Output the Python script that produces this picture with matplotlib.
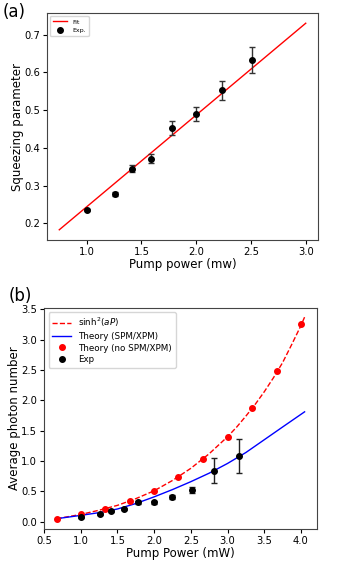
import numpy as np
import matplotlib
matplotlib.use("Agg")
import matplotlib.pyplot as plt

# ---- panel (a) data ----
fit_x = [0.75, 3.0]
fit_y = [0.183, 0.730]
pa_x = [1.0, 1.26, 1.41, 1.59, 1.78, 2.0, 2.24, 2.51]
pa_y = [0.235, 0.278, 0.345, 0.371, 0.452, 0.489, 0.553, 0.633]
pa_err = [0.003, 0.006, 0.010, 0.012, 0.019, 0.018, 0.025, 0.035]

# ---- panel (b) data ----
sinh_x = [0.67, 1.0, 1.25, 1.5, 1.75, 2.0, 2.25, 2.5, 2.75, 3.0, 3.125, 3.25,
          3.375, 3.5, 3.625, 3.75, 3.875, 4.0, 4.05]
sinh_y = [0.05, 0.12, 0.19, 0.27, 0.38, 0.51, 0.68, 0.88, 1.12, 1.40, 1.56, 1.74,
          1.93, 2.14, 2.37, 2.62, 2.92, 3.23, 3.37]
spm_x = [0.67, 1.0, 1.25, 1.5, 1.75, 2.0, 2.25, 2.5, 2.75, 3.0, 3.25, 3.5, 3.75, 4.05]
spm_y = [0.05, 0.105, 0.15, 0.21, 0.30, 0.41, 0.53, 0.66, 0.80, 0.96, 1.14, 1.35, 1.56, 1.81]
nospm_x = [0.67, 1.0, 1.33, 1.67, 2.0, 2.33, 2.67, 3.0, 3.33, 3.67, 4.0]
nospm_y = [0.05, 0.12, 0.21, 0.34, 0.51, 0.74, 1.03, 1.40, 1.88, 2.49, 3.26]
pb_x = [1.0, 1.26, 1.41, 1.59, 1.78, 2.0, 2.24, 2.51, 2.82, 3.16]
pb_y = [0.08, 0.13, 0.18, 0.21, 0.32, 0.32, 0.41, 0.52, 0.84, 1.08]
pb_err = [0.02, 0.02, 0.02, 0.02, 0.02, 0.02, 0.03, 0.05, 0.21, 0.28]

fig = plt.figure(figsize=(3.53, 5.61), dpi=100)
lab_fs = 8.5
tick_fs = 7.2

# (a)
ax1 = fig.add_axes([0.133, 0.572, 0.768, 0.405])
ax1.plot(fit_x, fit_y, color='red', lw=1, label='Fit')
ax1.errorbar(pa_x, pa_y, yerr=pa_err, fmt='none', ecolor='#333333', elinewidth=1, capsize=2.5)
ax1.plot(pa_x, pa_y, 'o', color='black', ms=4, label='Exp.')
ax1.set_xlabel('Pump power (mw)', fontsize=lab_fs, labelpad=1)
ax1.set_ylabel('Squeezing parameter', fontsize=lab_fs, labelpad=0)
ax1.set_xticks([1.0, 1.5, 2.0, 2.5, 3.0])
ax1.set_yticks([0.2, 0.3, 0.4, 0.5, 0.6, 0.7])
ax1.tick_params(labelsize=tick_fs, length=3, pad=2)
ax1.legend(loc='upper left', fontsize=4.5, handlelength=2.2, borderpad=0.5)
fig.text(0.008, 0.995, '(a)', fontsize=12, va='top', ha='left')

# (b)
ax2 = fig.add_axes([0.125, 0.057, 0.773, 0.394])
ax2.plot(sinh_x, sinh_y, '--', color='red', lw=1, label=r'sinh$^2$($aP$)')
ax2.plot(spm_x, spm_y, '-', color='blue', lw=1, label='Theory (SPM/XPM)')
ax2.plot(nospm_x, nospm_y, 'o', color='red', ms=4, label='Theory (no SPM/XPM)')
ax2.errorbar(pb_x, pb_y, yerr=pb_err, fmt='none', ecolor='#222222', elinewidth=1, capsize=2.5)
ax2.plot(pb_x, pb_y, 'o', color='black', ms=4, label='Exp')
ax2.set_xlabel('Pump Power (mW)', fontsize=lab_fs, labelpad=1)
ax2.set_ylabel('Average photon number', fontsize=lab_fs, labelpad=0)
ax2.set_xticks([0.5, 1.0, 1.5, 2.0, 2.5, 3.0, 3.5, 4.0])
ax2.set_yticks([0.0, 0.5, 1.0, 1.5, 2.0, 2.5, 3.0, 3.5])
ax2.set_ylim(-0.12, 3.52)
ax2.tick_params(labelsize=tick_fs, length=3, pad=2)
ax2.legend(loc='upper left', fontsize=6.3, handlelength=2.2, borderpad=0.4, labelspacing=0.3)
fig.text(0.025, 0.489, '(b)', fontsize=12, va='top', ha='left')

for ax in (ax1, ax2):
    for s in ax.spines.values():
        s.set_color('#444444')

fig.savefig('out.png', dpi=100)
